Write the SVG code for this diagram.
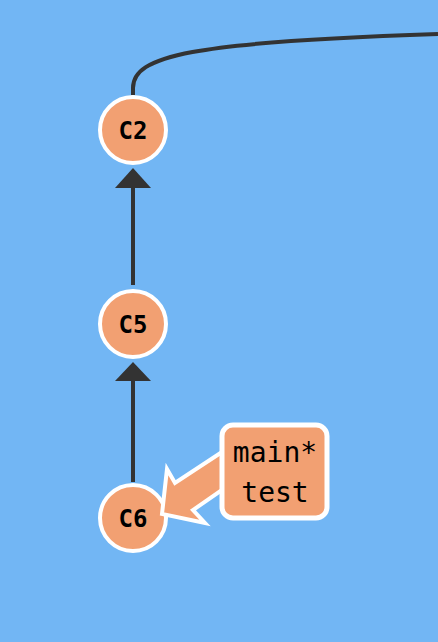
<svg xmlns="http://www.w3.org/2000/svg" width="438" height="642" viewBox="0 0 438 642">
<style>
.node circle{fill:#F2A072;stroke:#fff;stroke-width:4}
.node text{font-family:"DejaVu Sans Mono",monospace;font-weight:bold;font-size:24px;fill:#000;text-anchor:middle}
.edge{stroke:#333;stroke-width:4;fill:none}
.lbl text{font-family:"DejaVu Sans Mono",monospace;font-size:28px;fill:#000;text-anchor:middle}
</style>
<rect width="438" height="642" fill="#72B6F4"/>
<g id="connectors">
<path class="edge" d="M133,95 L133,88 C133,56 190,42 438,34"/>
<line class="edge" x1="133" y1="285" x2="133" y2="186"/>
<path d="M133,168 L151,188 L115,188 Z" fill="#333"/>
<line class="edge" x1="133" y1="482" x2="133" y2="378"/>
<path d="M133,362 L151,381 L115,381 Z" fill="#333"/>
</g>
<g id="C2" class="node"><circle cx="133" cy="130" r="33"/><text x="133" y="139">C2</text></g>
<g id="C5" class="node"><circle cx="133" cy="324" r="33"/><text x="133" y="333">C5</text></g>
<g id="C6" class="node"><circle cx="133" cy="518" r="33"/><text x="133" y="527">C6</text></g>
<g id="label" class="lbl">
<polygon points="162,514 167,469 175,483 222,452 222,490 193,510 205,523" fill="#F2A072" stroke="#fff" stroke-width="4" stroke-linejoin="miter"/>
<rect x="222" y="425" width="105" height="93" rx="11" fill="#F2A072" stroke="#fff" stroke-width="5"/>
<text x="275" y="462">main*</text>
<text x="275" y="502">test</text>
</g>
</svg>
